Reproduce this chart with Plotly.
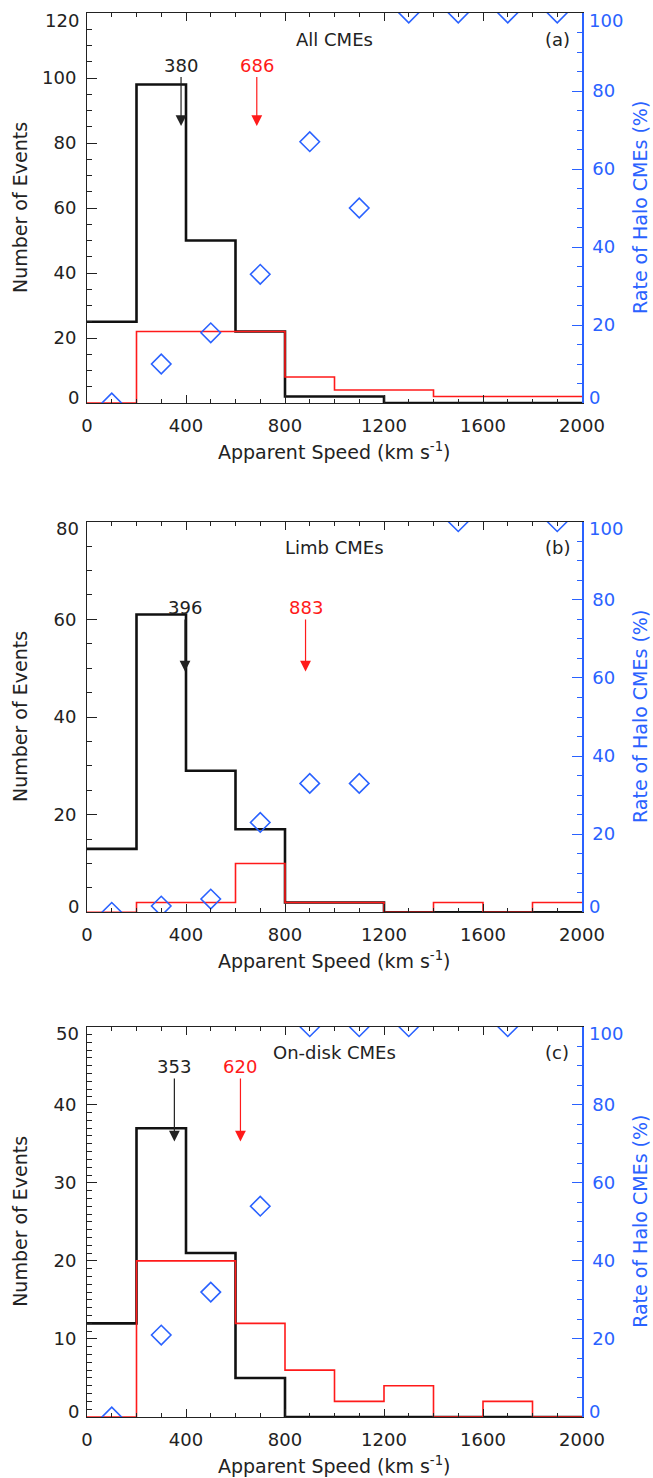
import plotly.graph_objects as go

# ---- data -------------------------------------------------------------
speed_edges = [0, 200, 400, 600, 800, 1000, 1200, 1400, 1600, 1800, 2000]
bin_centers = [100, 300, 500, 700, 900, 1100, 1300, 1500, 1700, 1900]

# (a) all CMEs
all_counts = [25, 98, 50, 22, 2, 2, 0, 0, 0, 0]
all_halo = [0, 22, 22, 22, 8, 4, 4, 2, 2, 2]
all_rate = [0, 10, 18, 33, 67, 50, 100, 100, 100, 100]
all_means = [380, 686]

# (b) limb CMEs
limb_counts = [13, 61, 29, 17, 2, 2, 0, 0, 0, 0]
limb_halo = [0, 2, 2, 10, 2, 2, 0, 2, 0, 2]
limb_rate = [0, 1.6, 3.4, 23, 33, 33, None, 100, None, 100]
limb_means = [396, 883]

# (c) on-disk CMEs
disk_counts = [12, 37, 21, 5, 0, 0, 0, 0, 0, 0]
disk_halo = [0, 20, 20, 12, 6, 2, 4, 0, 2, 0]
disk_rate = [0, 21, 32, 54, 100, 100, 100, None, 100, None]
disk_means = [353, 620]

panel_names = ["All CMEs", "Limb CMEs", "On-disk CMEs"]
panel_tags = ["(a)", "(b)", "(c)"]
count_ticks = [[0, 20, 40, 60, 80, 100, 120],
               [0, 20, 40, 60, 80],
               [0, 10, 20, 30, 40, 50]]
rate_ticks = [0, 20, 40, 60, 80, 100]
speed_ticks = [0, 400, 800, 1200, 1600, 2000]

# ---- styling ----------------------------------------------------------
FONT = "DejaVu Sans"
FS = 18          # tick labels and in-panel text
FT = 19          # axis titles
INK = "#222222"
RED = "#ff1a1a"
BLUE = "#2a62ff"
W, H = 653, 1478

x_dom = [87 / W, 582 / W]
# plot-area pixel bounds (top, bottom) of each panel
panel_px = [(13, 403), (521.7, 912.3), (1026.7, 1417)]
count_minor = [5, 5, 1]
# arrow tips (left-axis units) and label-to-tip pixel offsets
tip_y = [85.2, 49.3, 35.3]
label_off = [61, 64, 75]

panels = [
    (all_counts, all_halo, all_rate, all_means),
    (limb_counts, limb_halo, limb_rate, limb_means),
    (disk_counts, disk_halo, disk_rate, disk_means),
]


def step(counts):
    return speed_edges, list(counts) + [counts[-1]]


def inner_text(vals):
    # end labels are drawn separately, nudged inside the frame
    return ["" if k in (0, len(vals) - 1) else str(v) for k, v in enumerate(vals)]


def label(text, color=INK, size=FS, **kw):
    return dict(text=text, showarrow=False, xanchor=kw.pop("xanchor", "center"),
                yanchor=kw.pop("yanchor", "middle"),
                font=dict(family=FONT, size=size, color=color), **kw)


fig = go.Figure()
layout = dict(
    template="none",
    width=W, height=H,
    margin=dict(l=0, r=0, t=0, b=0, autoexpand=False),
    paper_bgcolor="white", plot_bgcolor="white",
    showlegend=False,
    font=dict(family=FONT, size=FS, color=INK),
)
annotations = []

for i, (counts, halo, rate, means) in enumerate(panels):
    xn = "" if i == 0 else str(i + 1)
    yl = str(2 * i + 1) if i else ""
    yr = str(2 * i + 2)
    xref, ylref, yrref = "x" + xn, "y" + yl, "y" + yr

    top, bot = panel_px[i]
    dom = [1 - bot / H, 1 - top / H]
    cticks = count_ticks[i]

    sx, sy = step(counts)
    fig.add_trace(go.Scatter(x=sx, y=sy, mode="lines", line_shape="hv",
                             line=dict(color="#111111", width=2.6),
                             xaxis=xref, yaxis=ylref))
    hx, hy = step(halo)
    fig.add_trace(go.Scatter(x=hx, y=hy, mode="lines", line_shape="hv",
                             line=dict(color=RED, width=1.6),
                             xaxis=xref, yaxis=ylref))
    fig.add_trace(go.Scatter(x=bin_centers, y=rate, mode="markers",
                             marker=dict(symbol="diamond-open", size=15,
                                         color=BLUE, line=dict(width=1.6, color=BLUE)),
                             xaxis=xref, yaxis=yrref))

    layout["xaxis" + xn] = dict(
        domain=x_dom, anchor=ylref, range=[0, 2000],
        tickvals=speed_ticks, ticktext=[str(v) for v in speed_ticks],
        ticks="inside", ticklen=8, tickwidth=1, tickcolor=INK,
        minor=dict(dtick=100, tick0=0, ticklen=4, tickwidth=1, tickcolor=INK,
                   ticks="inside", showgrid=False),
        showline=True, linecolor=INK, linewidth=1, mirror="ticks",
        showgrid=False, zeroline=False, automargin=False,
        ticklabelstandoff=6,
        tickfont=dict(family=FONT, size=FS, color=INK),
    )
    layout["yaxis" + yl] = dict(
        domain=dom, anchor=xref, range=[0, cticks[-1]],
        tickvals=cticks, ticktext=inner_text(cticks),
        ticks="inside", ticklen=10, tickwidth=1, tickcolor=INK,
        minor=dict(dtick=count_minor[i], tick0=0, ticklen=5, tickwidth=1, tickcolor=INK,
                   ticks="inside", showgrid=False),
        showline=True, linecolor=INK, linewidth=1,
        showgrid=False, zeroline=False, automargin=False,
        ticklabelstandoff=6,
        tickfont=dict(family=FONT, size=FS, color=INK),
    )
    layout["yaxis" + yr] = dict(
        overlaying=ylref, anchor=xref, side="right", range=[0, 100],
        tickvals=rate_ticks, ticktext=inner_text(rate_ticks),
        ticks="inside", ticklen=10, tickwidth=1, tickcolor=BLUE,
        minor=dict(dtick=5, tick0=0, ticklen=5, tickwidth=1, tickcolor=BLUE,
                   ticks="inside", showgrid=False),
        showline=True, linecolor=BLUE, linewidth=1.5,
        showgrid=False, zeroline=False, automargin=False,
        ticklabelstandoff=5,
        tickfont=dict(family=FONT, size=FS, color=BLUE),
    )

    # end labels of the two value axes, kept inside the frame height
    for val, shift in ((cticks[0], 6), (cticks[-1], -7)):
        annotations.append(label(str(val), xref=xref + " domain", yref=ylref,
                                 x=0, y=val, xanchor="right", xshift=-6, yshift=shift))
    for val, shift in ((rate_ticks[0], 6), (rate_ticks[-1], -7)):
        annotations.append(label(str(val), BLUE, xref=xref + " domain", yref=yrref,
                                 x=1, y=val, xanchor="left", xshift=5, yshift=shift))

    yc = 1 - (top + bot) / 2 / H
    annotations += [
        label("Number of Events", size=FT, xref="paper", yref="paper", x=20 / W, y=yc,
              textangle=-90),
        label("Rate of Halo CMEs (%)", BLUE, size=FT, xref="paper", yref="paper",
              x=640 / W, y=yc, textangle=-90),
        label("Apparent Speed (km s<sup>-1</sup>)", size=FT, xref="paper", yref="paper",
              x=334.5 / W, y=1 - (bot + 48) / H),
        label(panel_names[i], xref=xref, yref=ylref + " domain", x=1000, y=0.933),
        label(panel_tags[i], xref=xref + " domain", yref=ylref + " domain", x=0.95, y=0.933),
    ]
    for m, col in zip(means, [INK, RED]):
        annotations.append(dict(
            text=str(m), x=m, y=tip_y[i], xref=xref, yref=ylref,
            ax=0, ay=-label_off[i], showarrow=True,
            arrowhead=2, arrowsize=1.8, arrowwidth=1.2, arrowcolor=col, standoff=0,
            font=dict(family=FONT, size=FS, color=col),
        ))

layout["annotations"] = annotations
fig.update_layout(**layout)
fig.write_html("out.html")
